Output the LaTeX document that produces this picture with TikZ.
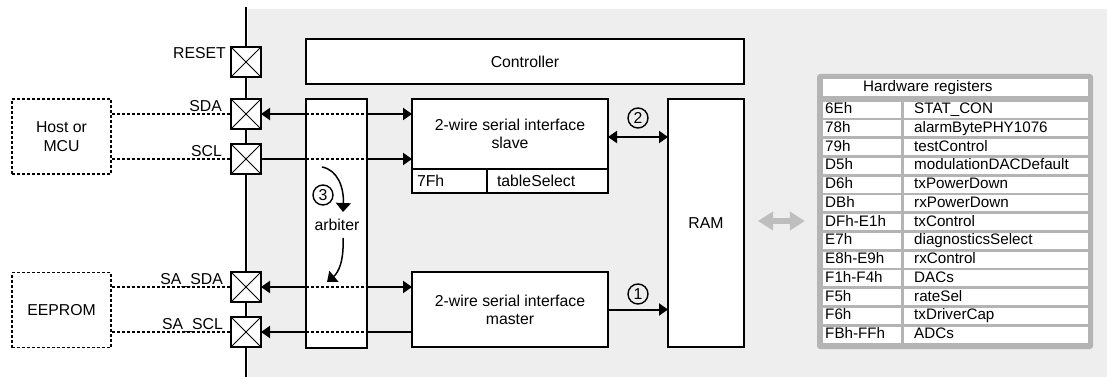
\documentclass[tikz,border=0pt]{standalone}
\usepackage{fontspec}
\setmainfont{Liberation Sans}
\usetikzlibrary{positioning,arrows.meta,calc}
\definecolor{ICback}{HTML}{EEEEEE}
\definecolor{ICframe}{HTML}{B4B4B4}
\definecolor{ICgrey}{HTML}{BEBEBE}
\tikzset{
  blk/.style={draw, line width=2pt, fill=white, align=center, inner sep=0pt, outer sep=0pt},
  extbox/.style={draw, line width=1.8pt, dash pattern=on 3pt off 2pt, align=center, minimum width=99pt, minimum height=75pt, inner sep=0pt},
  pad/.style={draw, line width=2pt, fill=white, minimum size=30pt, inner sep=0pt, outer sep=0pt,
    path picture={\draw[line width=0.8pt] (path picture bounding box.north west) -- (path picture bounding box.south east)
      (path picture bounding box.south west) -- (path picture bounding box.north east);}},
  padlbl/.style={anchor=base east, inner sep=0pt},
  sig/.style={line width=2pt},
  wire/.style={line width=1.5pt, dash pattern=on 3pt off 2pt},
  numcirc/.style={circle, draw, line width=1.4pt, minimum size=20pt, inner sep=0pt},
  regcell/.style={fill=white, anchor=north west, minimum height=16pt, inner ysep=0pt, align=left, text height=11pt, text depth=3pt},
  adrcell/.style={regcell, inner xsep=2pt, text width=74pt},
  namecell/.style={regcell, inner xsep=10pt, text width=164pt},
  greyarr/.style={{Triangle[length=15pt,width=18pt]}-{Triangle[length=15pt,width=18pt]}, line width=6pt, draw=ICgrey}
}
\begin{document}
\begin{tikzpicture}[x=1pt, y=-1pt, font=\fontsize{15.8}{18.3}\selectfont, >={Triangle[length=9pt,width=12pt]}]
\useasboundingbox (0,0) rectangle (1107,377);
\fill[ICback] (248,9) rectangle (1107,377);
\coordinate (bustop) at (246,7);
\coordinate (busbot) at (246,377);
\draw[line width=2.6pt] (bustop) -- (busbot);

\node[pad] (reset) at (246,62) {};
\node[pad] (sda) at (246,114) {};
\node[pad] (scl) at (246,159) {};
\node[pad] (sasda) at (246,287) {};
\node[pad] (sascl) at (246,332) {};
\node[padlbl] (resetlbl) at ($(reset.west)+(-5,-3)$) {RESET};
\node[padlbl] (sdalbl) at ($(sda.west)+(-9,-2)$) {SDA};
\node[padlbl] (scllbl) at ($(scl.west)+(-9,-3)$) {SCL};
\node[padlbl] (sasdalbl) at ($(sasda.west)+(-8,-3)$) {SA\_SDA};
\node[padlbl] (sascllbl) at ($(sascl.west)+(-8,-3)$) {SA\_SCL};

\node[extbox] (host) at (61.5,136.5) {Host or\\MCU};
\node[extbox] (eeprom) at (61.5,310) {EEPROM};
\draw[wire] (host.east |- sda) -- (sda.west);
\draw[wire] (host.east |- scl) -- (scl.west);
\draw[wire] (eeprom.east |- sasda) -- (sasda.west);
\draw[wire] (eeprom.east |- sascl) -- (sascl.west);

\node[blk, minimum width=438pt, minimum height=45pt] (ctrl) at (525,61.5) {Controller};
\node[blk, minimum width=61pt, minimum height=249pt] (arb) at (336.5,223.5) {};
\node[blk, minimum width=196pt, minimum height=70pt] (slave) at (510,134) {2-wire serial interface\\slave};
\node[blk, anchor=north west, minimum width=75pt, minimum height=24pt, text width=65pt, inner xsep=5pt, align=left] (slaveadr) at (slave.south west) {7Fh};
\node[blk, anchor=north west, minimum width=121pt, minimum height=24pt, text width=101pt, inner xsep=10pt, align=left] (slavereg) at (slaveadr.north east) {tableSelect};
\node[blk, minimum width=196pt, minimum height=75pt] (master) at (510,309.5) {2-wire serial interface\\master};
\node[blk, minimum width=76pt, minimum height=248pt] (ram) at (706,223) {RAM};

\draw[sig,<-] (sda.east) -- (sda -| arb.west);
\draw[wire] (sda -| arb.west) -- (sda -| arb.east);
\draw[sig,->] (sda -| arb.east) -- (sda -| slave.west);
\draw[sig] (scl.east) -- (scl -| arb.west);
\draw[wire] (scl -| arb.west) -- (scl -| arb.east);
\draw[sig,->] (scl -| arb.east) -- (scl -| slave.west);
\draw[sig,<-] (sasda.east) -- (sasda -| arb.west);
\draw[wire] (sasda -| arb.west) -- (sasda -| arb.east);
\draw[sig,->] (sasda -| arb.east) -- (sasda -| master.west);
\draw[sig,<-] (sascl.east) -- (sascl -| arb.west);
\draw[wire] (sascl -| arb.west) -- (sascl -| arb.east);
\draw[sig] (sascl -| arb.east) -- (sascl -| master.west);

\draw[sig,<->] ([yshift=-3pt]slave.east) -- ([yshift=-3pt]slave.east -| ram.west);
\draw[sig,->] (master.east) -- (master.east -| ram.west);
\node[numcirc] (two) at (638,118) {2};
\node[numcirc] (one) at (638,294) {1};

\node[numcirc] (three) at (323,195) {3};
\node (arbtxt) at (337,225) {arbiter};
\coordinate (swa) at (322,167);
\coordinate (swb) at (343,212);
\coordinate (swc) at (343,238);
\coordinate (swd) at (327,282);
\draw[line width=1.5pt, -{Triangle[length=9pt,width=15pt]}] (swa) .. controls (338,170) and (344,188) .. (swb);
\draw[line width=1.5pt, -{Triangle[length=9pt,width=14pt]}] (swc) .. controls (344,260) and (339,272) .. (swd);

\node[fill=ICframe, rounded corners=3pt, minimum width=276pt, minimum height=275pt, inner sep=0pt] (tbl) at (955,211.5) {};
\node[regcell, minimum height=17pt, inner xsep=40pt, text width=185pt, font=\fontsize{15.2}{16}\selectfont] (regtitle) at (823,79) {Hardware registers};
\foreach \adr/\reg [count=\i from 0] in {6Eh/STAT\_CON, 78h/alarmBytePHY1076, 79h/testControl, D5h/modulationDACDefault, D6h/txPowerDown, DBh/rxPowerDown, DFh-E1h/txControl, E7h/diagnosticsSelect, E8h-E9h/rxControl, F1h-F4h/DACs, F5h/rateSel, F6h/txDriverCap, FBh-FFh/ADCs}{
  \node[adrcell, font=\fontsize{15.2}{16}\selectfont] (adr\i) at (823,{101.5+18.75*\i}) {\adr};
  \node[namecell, font=\fontsize{15.2}{16}\selectfont] (reg\i) at (904,{101.5+18.75*\i}) {\reg};
}
\draw[greyarr] ($(ram.east)+(14,-2)$) -- ($(tbl.west)+(-12,9.5)$);
\end{tikzpicture}
\end{document}
